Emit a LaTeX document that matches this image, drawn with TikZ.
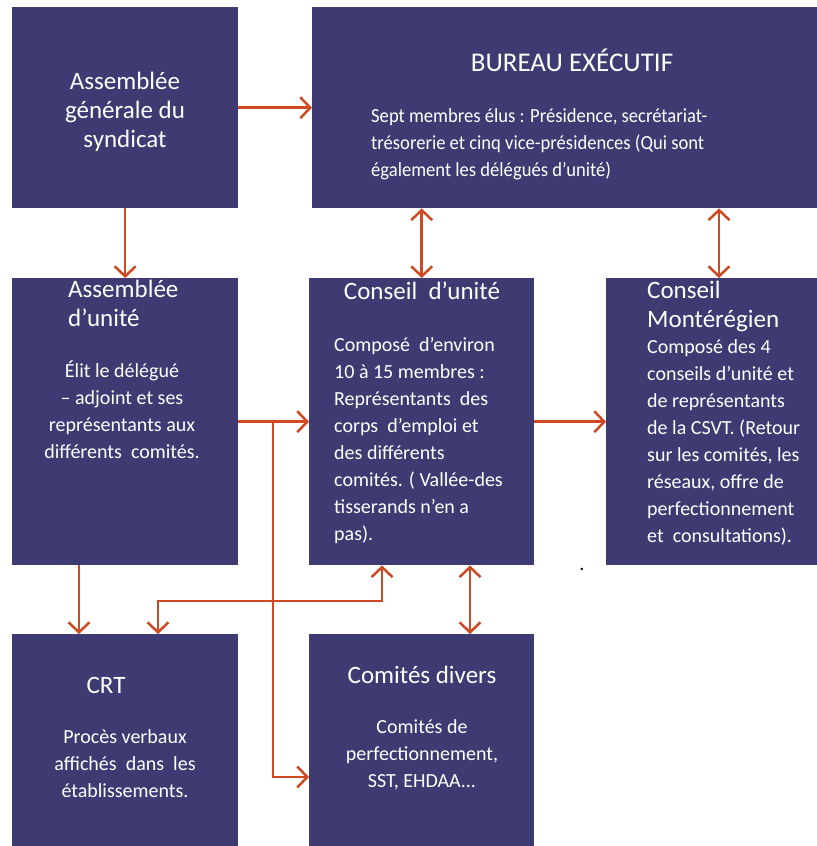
\documentclass[tikz,border=0pt]{standalone}
\usepackage{fontspec}
\setmainfont{Carlito}
\usetikzlibrary{arrows.meta}
\definecolor{boxblue}{HTML}{3D3B72}
\definecolor{arrred}{HTML}{CF4A22}
\newcommand{\fst}{\rule{0pt}{25bp}}
\begin{document}
\begin{tikzpicture}[x=1bp,y=-1bp,
  box/.style={fill=boxblue,draw=none,inner sep=0pt,anchor=north west},
  ttl/.style={text=white,inner sep=0pt,font=\fontsize{25bp}{29bp}\selectfont},
  bdy/.style={text=white,inner sep=0pt,font=\fontsize{20bp}{27bp}\selectfont},
  arr/.style={draw=arrred,line width=2.5bp,-{Straight Barb[length=10bp,width=21bp]}},
  darr/.style={draw=arrred,line width=2.5bp,{Straight Barb[length=10bp,width=21bp]}-{Straight Barb[length=10bp,width=21bp]}}]
\useasboundingbox (0,0) rectangle (817,846);
% boxes
\node[box,minimum width=226bp,minimum height=201bp] (ag) at (12,7) {};
\node[box,minimum width=505bp,minimum height=201bp] (be) at (312,7) {};
\node[box,minimum width=226bp,minimum height=287bp] (au) at (12,278) {};
\node[box,minimum width=225bp,minimum height=287bp] (cu) at (309,278) {};
\node[box,minimum width=211bp,minimum height=287bp] (cm) at (606,278) {};
\node[box,minimum width=226bp,minimum height=212bp] (crt) at (12,634) {};
\node[box,minimum width=225bp,minimum height=212bp] (cd) at (309,634) {};
% texts
\node[ttl,anchor=north,align=center] (agt) at (125,64) {\fst Assemblée\\générale du\\syndicat};
\node[ttl,anchor=north,font=\fontsize{27bp}{31bp}\selectfont] (bet) at (572,46) {\fst BUREAU EXÉCUTIF};
\node[bdy,anchor=north west,align=left,font=\fontsize{20bp}{27bp}\selectfont\addfontfeature{FakeStretch=0.93}] (beb) at (371,97) {\fst Sept membres élus : Présidence, secrétariat-\\trésorerie et cinq vice-présidences (Qui sont\\également les délégués d’unité)};
\node[ttl,anchor=north west,align=left] (aut) at (68,272) {\fst Assemblée\\d’unité};
\node[bdy,anchor=north,align=center] (aub) at (122,352) {\fst Élit le délégué\\– adjoint et ses\\représentants aux\\différents\ \ comités.};
\node[ttl,anchor=north] (cut) at (422,274) {\fst Conseil\ \ d’unité};
\node[bdy,anchor=north west,align=left] (cub) at (334,326) {\fst Composé\ \ d’environ\\10 à 15 membres :\\Représentants\ \ des\\corps\ \ d’emploi et\\des différents\\comités. ( Vallée-des\\tisserands n’en a\\pas).};
\node[ttl,anchor=north west,align=left] (cmt) at (647,273) {\fst Conseil\\Montérégien};
\node[bdy,anchor=north west,align=left] (cmb) at (647,328) {\fst Composé des 4\\conseils d’unité et\\de représentants\\de la CSVT. (Retour\\sur les comités, les\\réseaux, offre de\\perfectionnement\\et\ \ consultations).};
\node[ttl,anchor=north] (crtt) at (106,668) {\fst CRT};
\node[bdy,anchor=north,align=center] (crtb) at (125,718) {\fst Procès verbaux\\affichés\ \ dans\ \ les\\établissements.};
\node[ttl,anchor=north] (cdt) at (422,658) {\fst Comités divers};
\node[bdy,anchor=north,align=center] (cdb) at (422,708) {\fst Comités de\\perfectionnement,\\SST, EHDAA...};
\node[inner sep=0pt,anchor=base,font=\fontsize{20bp}{24bp}\selectfont] (dot) at (582,570) {.};
% helper coordinates
\coordinate (x719) at (719,0);
\coordinate (x79) at (79,0);
\coordinate (x470) at (470,0);
\coordinate (j1) at (273,0);
\coordinate (y777) at (0,777);
\coordinate (c158) at (158,601);
\coordinate (c382) at (382,601);
% connectors
\draw[arr] (ag.east) -- (be.west);
\draw[arr] (ag.south) -- (au.north);
\draw[darr] (be.south -| cu.north) -- (cu.north);
\draw[darr] (be.south -| x719) -- (cm.north -| x719);
\draw[arr] (au.east) -- (cu.west);
\draw[arr] (au.east -| j1) -- (j1 |- y777) -- (cd.west |- y777);
\draw[arr] (cu.east) -- (cm.west);
\draw[arr] (au.south -| x79) -- (crt.north -| x79);
\draw[darr] (crt.north -| c158) -- (c158) -- (c382) -- (cu.south -| c382);
\draw[darr] (cu.south -| x470) -- (cd.north -| x470);
\end{tikzpicture}
\end{document}
